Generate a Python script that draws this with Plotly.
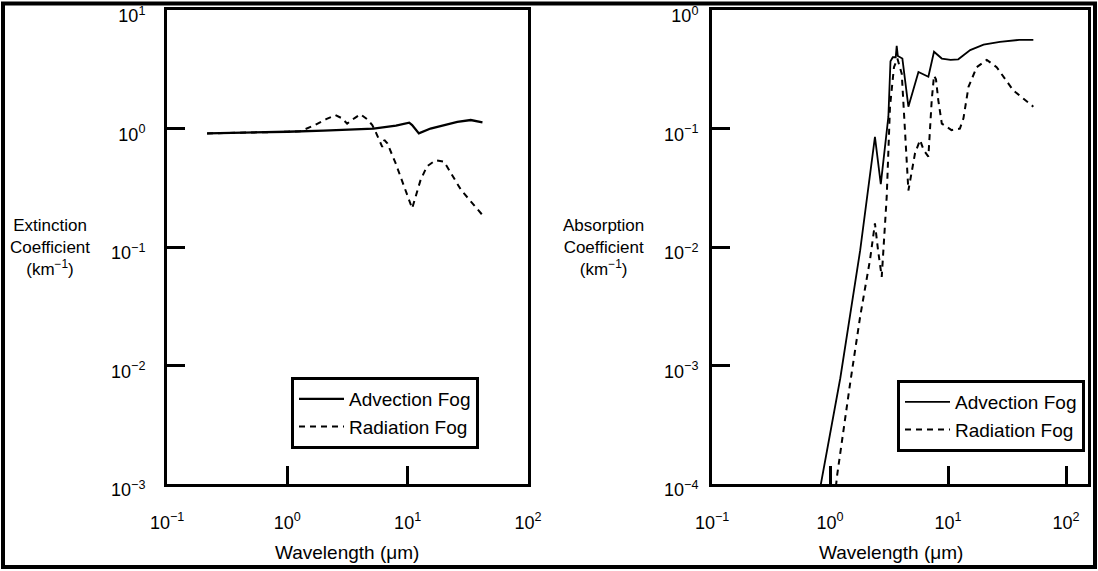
import plotly.graph_objects as go

# ---------------- data ----------------
# Left panel: extinction coefficient (km^-1) vs wavelength (um)
ext_adv_wl = [0.215, 0.5, 1.0, 2.0, 5.2, 8.0, 10.3, 10.9, 12.4, 15.5, 25.9, 33.5, 41.9]
ext_adv_val = [0.91, 0.92, 0.94, 0.96, 1.0, 1.06, 1.12, 1.07, 0.91, 1.0, 1.14, 1.18, 1.13]

ext_rad_wl = [0.215, 0.5, 1.0, 1.28, 1.66, 2.1, 2.51, 2.85, 3.14, 3.6, 4.05, 4.6, 5.08,
              5.41, 5.9, 6.15, 6.4, 6.78, 7.94, 9.3, 10.9, 12.8, 14.5, 17.1, 20.1, 27.8,
              34.0, 41.9]
ext_rad_val = [0.91, 0.92, 0.94, 0.95, 1.06, 1.2, 1.3, 1.22, 1.1, 1.22, 1.32, 1.2, 1.07,
               0.94, 0.78, 0.70, 0.80, 0.75, 0.51, 0.33, 0.212, 0.367, 0.48, 0.54, 0.525,
               0.303, 0.24, 0.186]

# Right panel: absorption coefficient (km^-1) vs wavelength (um)
abs_adv_wl = [0.82, 1.22, 1.80, 2.40, 2.69, 3.12, 3.25, 3.4, 3.6, 3.67, 3.75, 4.1, 4.61,
              5.61, 6.81, 7.6, 8.85, 10.5, 12.2, 15.4, 20.0, 27.5, 40.0, 52.8]
abs_adv_val = [9.0e-5, 7.8e-4, 0.0094, 0.085, 0.034, 0.126, 0.37, 0.40, 0.40, 0.50, 0.41,
               0.39, 0.153, 0.30, 0.274, 0.445, 0.39, 0.38, 0.384, 0.46, 0.51, 0.54, 0.56,
               0.56]

abs_rad_wl = [1.12, 1.15, 1.48, 1.8, 2.18, 2.40, 2.55, 2.74, 3.02, 3.22, 3.48, 3.72, 4.05,
              4.32, 4.61, 5.25, 5.79, 6.2, 6.81, 7.27, 7.6, 7.9, 8.26, 8.85, 10.7, 12.6,
              13.5, 14.9, 17.5, 21.3, 25.8, 35.7, 52.8]
abs_rad_val = [9.5e-5, 1.2e-4, 7.1e-4, 0.0026, 0.0078, 0.0158, 0.0094, 0.0056, 0.0266,
               0.153, 0.33, 0.39, 0.29, 0.085, 0.030, 0.062, 0.080, 0.066, 0.058, 0.174,
               0.28, 0.26, 0.174, 0.11, 0.097, 0.1, 0.122, 0.225, 0.33, 0.38, 0.33, 0.21,
               0.153]

series_names = ["Advection Fog", "Radiation Fog"]

x_tickvals = [0.1, 1, 10, 100]
x_ticktext = ["10<sup>−1</sup>", "10<sup>0</sup>", "10<sup>1</sup>", "10<sup>2</sup>"]
yl_tickvals = [1e-3, 1e-2, 1e-1, 1, 10]
yl_ticktext = ["10<sup>−3</sup>", "10<sup>−2</sup>", "10<sup>−1</sup>", "10<sup>0</sup>", "10<sup>1</sup>"]
yr_tickvals = [1e-4, 1e-3, 1e-2, 1e-1, 1]
yr_ticktext = ["10<sup>−4</sup>", "10<sup>−3</sup>", "10<sup>−2</sup>", "10<sup>−1</sup>", "10<sup>0</sup>"]

# ---------------- figure ----------------
W, H = 1098, 571
FONT = "Liberation Sans, Arial, Helvetica, sans-serif"
EPS = 0.0008

fig = go.Figure()
solid = dict(color="black", width=2.3)
dashed = dict(color="black", width=2, dash="6px,5px")

fig.add_trace(go.Scatter(x=ext_adv_wl, y=ext_adv_val, mode="lines", line=solid,
                         name=series_names[0], xaxis="x", yaxis="y", legend="legend",
                         legendgroup="a"))
fig.add_trace(go.Scatter(x=ext_rad_wl, y=ext_rad_val, mode="lines", line=dashed,
                         name=series_names[1], xaxis="x", yaxis="y", legend="legend",
                         legendgroup="b"))
fig.add_trace(go.Scatter(x=abs_adv_wl, y=abs_adv_val, mode="lines", line=dict(color="black", width=1.8),
                         name=series_names[0], xaxis="x2", yaxis="y2", legend="legend2",
                         legendgroup="c"))
fig.add_trace(go.Scatter(x=abs_rad_wl, y=abs_rad_val, mode="lines", line=dashed,
                         name=series_names[1], xaxis="x2", yaxis="y2", legend="legend2",
                         legendgroup="d"))

def px_x(p):
    return p / W

def px_y(p):
    return 1 - p / H

axis_common = dict(type="log", showline=True, linecolor="black", linewidth=3, mirror=True,
                   ticks="inside", ticklen=18, tickwidth=3, tickcolor="black", automargin=False,
                   ticklabeloverflow="allow",
                   showgrid=False, zeroline=False, tickfont=dict(family=FONT, size=18, color="black"))

legend_common = dict(xanchor="right", yanchor="bottom", bordercolor="black", borderwidth=3,
                     bgcolor="white", font=dict(family=FONT, size=19, color="black"),
                     traceorder="grouped", tracegroupgap=0, itemwidth=45)

fig.update_layout(
    template="none",
    width=W, height=H, autosize=False,
    margin=dict(l=0, r=0, t=0, b=0, pad=0),
    paper_bgcolor="white", plot_bgcolor="white",
    font=dict(family=FONT, size=17, color="black"),
    xaxis=dict(domain=[px_x(167), px_x(528)], range=[-1 - EPS, 2 + EPS], anchor="y",
               tickvals=x_tickvals, ticktext=x_ticktext, ticklabelstandoff=20, **axis_common),
    yaxis=dict(domain=[px_y(484), px_y(10)], range=[-3 - EPS, 1 + EPS], anchor="x",
               tickvals=yl_tickvals, ticktext=yl_ticktext, ticklabelstandoff=15,
               ticklabelshift=6, **axis_common),
    xaxis2=dict(domain=[px_x(712), px_x(1088)], range=[-1 - EPS, 2.186], anchor="y2",
                tickvals=x_tickvals, ticktext=x_ticktext, ticklabelstandoff=20, **axis_common),
    yaxis2=dict(domain=[px_y(484), px_y(10)], range=[-4 - EPS, 0 + EPS], anchor="x2",
                tickvals=yr_tickvals, ticktext=yr_ticktext, ticklabelstandoff=7,
                ticklabelshift=6, **axis_common),
    legend=dict(x=px_x(479), y=px_y(449), **legend_common),
    legend2=dict(x=px_x(1085), y=px_y(452), **legend_common),
    showlegend=True,
)

# axis titles
fig.add_annotation(text="Extinction<br>Coefficient<br>(km<sup>−1</sup>)", x=px_x(50), y=px_y(247),
                   xref="paper", yref="paper", showarrow=False, align="center",
                   xanchor="center", yanchor="middle", font=dict(family=FONT, size=17))
fig.add_annotation(text="Absorption<br>Coefficient<br>(km<sup>−1</sup>)", x=px_x(603), y=px_y(247),
                   xref="paper", yref="paper", showarrow=False, align="center",
                   xanchor="center", yanchor="middle", font=dict(family=FONT, size=17))
fig.add_annotation(text="Wavelength (μm)", x=px_x(347), y=px_y(552), xref="paper", yref="paper",
                   showarrow=False, xanchor="center", yanchor="middle", font=dict(family=FONT, size=19))
fig.add_annotation(text="Wavelength (μm)", x=px_x(891), y=px_y(552), xref="paper", yref="paper",
                   showarrow=False, xanchor="center", yanchor="middle", font=dict(family=FONT, size=19))

# outer frame
fig.add_shape(type="rect", xref="paper", yref="paper", x0=px_x(3), x1=px_x(1095),
              y0=px_y(567), y1=px_y(3.5), line=dict(color="black", width=4), layer="above")

fig.write_html("out.html")
